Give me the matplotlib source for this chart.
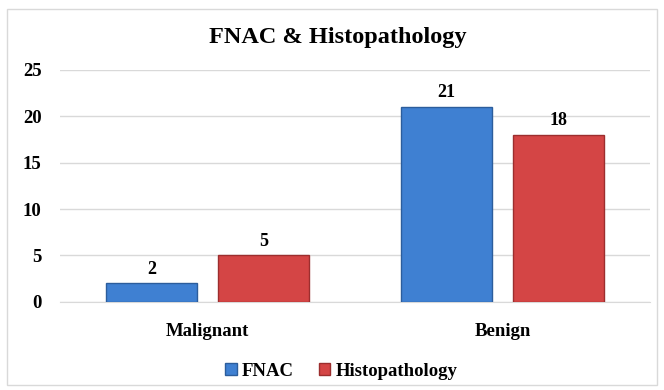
import numpy as np
import matplotlib.pyplot as plt
from matplotlib.patches import Rectangle

categories = ["Malignant", "Benign"]
fnac = [2, 21]
histo = [5, 18]
yticks = [0, 5, 10, 15, 20, 25]

plt.rcParams['font.family'] = ['Liberation Serif', 'DejaVu Serif']
plt.rcParams['font.weight'] = 'bold'

fig = plt.figure(figsize=(6.64, 3.90), dpi=100)
fig.patches.append(Rectangle((7 / 664, 5 / 390), 650 / 664, 376 / 390, transform=fig.transFigure,
                             fill=False, edgecolor='#d9d9d9', linewidth=1))
ax = fig.add_axes([0.090, 0.226, 0.889, 0.595])

x = np.arange(len(categories))
w = 0.31
b1 = ax.bar(x - 0.19, fnac, w, color='#3f80d2', edgecolor='#2c5d9c', linewidth=1, zorder=3, label='FNAC')
b2 = ax.bar(x + 0.19, histo, w, color='#d44545', edgecolor='#9c2e2e', linewidth=1, zorder=3, label='Histopathology')

for bars in (b1, b2):
    for r in bars:
        ax.text(r.get_x() + r.get_width() / 2, r.get_height() + 0.6, str(int(r.get_height())),
                ha='center', va='bottom', fontsize=13, fontweight='bold')

ax.set_xlim(-0.5, 1.5)
ax.set_ylim(0, 25)
ax.set_yticks(yticks)
ax.set_xticks(x)
ax.set_xticklabels(categories, fontsize=13.5, fontweight='bold')
ax.tick_params(axis='x', length=0, pad=15)
ax.tick_params(axis='y', length=0, labelsize=13.5, pad=13)
ax.yaxis.grid(True, color='#d9d9d9', linewidth=1, zorder=0)
for s in ax.spines.values():
    s.set_visible(False)
ax.spines['bottom'].set_visible(True)
ax.spines['bottom'].set_color('#d9d9d9')

fig.text(0.508, 0.905, "FNAC & Histopathology", ha='center', va='center', fontsize=17.5, fontweight='bold')
fig.legend(handles=[b1, b2], loc='center', bbox_to_anchor=(0.514, 0.048), ncol=2, frameon=False,
           fontsize=13.5, handlelength=0.6, handleheight=0.6, handletextpad=0.3, columnspacing=1.3)

fig.savefig('out.png', dpi=100)
